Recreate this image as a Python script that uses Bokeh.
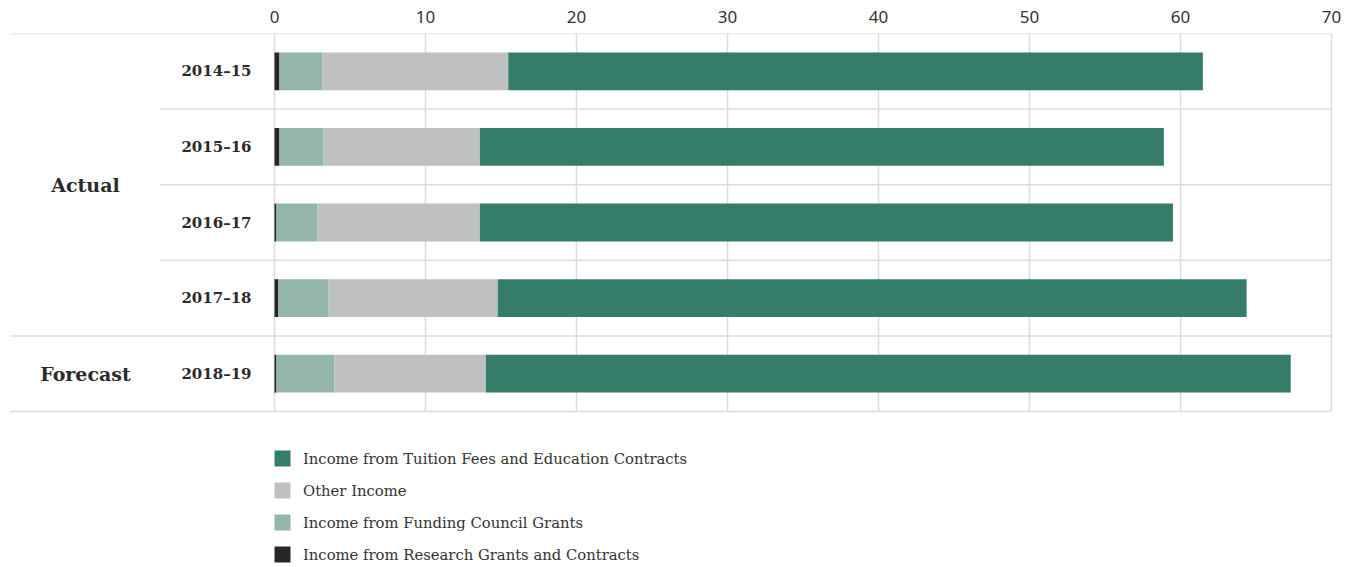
from bokeh.plotting import figure
from bokeh.models import ColumnDataSource, Range1d, FixedTicker, Legend, LegendItem
from bokeh.core.properties import value
from bokeh.embed import file_html
from bokeh.resources import INLINE

# ---- data ----
years = ["2014–15", "2015–16", "2016–17", "2017–18", "2018–19"]
groups = ["Actual", "Forecast"]
research = [0.33, 0.33, 0.13, 0.26, 0.13]
funding = [2.85, 2.92, 2.72, 3.32, 3.84]
other = [12.3, 10.35, 10.75, 11.2, 10.03]
tuition = [46.0, 45.3, 45.9, 49.6, 53.3]
x_ticks = [0, 10, 20, 30, 40, 50, 60, 70]
series_keys = ["research", "funding", "other", "tuition"]
series_labels = [
    "Income from Research Grants and Contracts",
    "Income from Funding Council Grants",
    "Other Income",
    "Income from Tuition Fees and Education Contracts",
]
series_colors = ["#262626", "#94B6A9", "#BFC0C1", "#367D69"]

# ---- layout constants (pixels) ----
W, H = 1362, 567
X0PX = 274.0
PXU = 15.1            # pixels per unit
ROW = 75.6            # pixels per row
TOP = 33

def xd(px):
    return (px - X0PX) / PXU

src = ColumnDataSource(dict(
    y=list(range(len(years))),
    research=research, funding=funding, other=other, tuition=tuition,
))

p = figure(
    width=W, height=H, output_backend="svg", toolbar_location=None,
    x_axis_location="above", y_axis_location=None,
    x_range=Range1d(xd(0), xd(W)),
    y_range=Range1d(-0.5 + (H - TOP) / ROW, -0.5),
    min_border_left=0, min_border_right=0, min_border_bottom=0, min_border_top=TOP,
)
p.outline_line_color = None
p.grid.visible = False

ax = p.xaxis[0]
ax.ticker = FixedTicker(ticks=x_ticks)
ax.axis_line_color = None
ax.major_tick_line_color = None
ax.minor_tick_line_color = None
ax.major_label_standoff = 5
ax.major_label_text_font = "Noto Sans"
ax.major_label_text_font_size = "17px"
ax.major_label_text_color = "#333333"

grid_color = "#dcdcdc"
n = len(years)
# vertical grid lines
p.segment(x0=x_ticks, x1=x_ticks, y0=[-0.5] * len(x_ticks), y1=[n - 0.5] * len(x_ticks),
          line_color=grid_color, line_width=1.5)
# horizontal separators
hy = [-0.5, 0.5, 1.5, 2.5, 3.5, 4.5]
hx0 = [xd(10), xd(160), xd(160), xd(160), xd(10), xd(10)]
p.segment(x0=hx0, x1=[x_ticks[-1]] * len(hy), y0=hy, y1=hy,
          line_color=grid_color, line_width=1.5)

rs = p.hbar_stack(series_keys, y="y", height=0.5, color=series_colors, source=src,
                  line_color=None)

# year labels
p.text(x=[xd(251)] * n, y=list(range(n)), text=years,
       text_align="right", text_baseline="middle",
       text_font=value("DejaVu Serif"), text_font_style="bold",
       text_font_size="15px", text_color="#2b2b2b")
# group labels
p.text(x=[xd(85), xd(85)], y=[1.5, 4.0], text=groups,
       text_align="center", text_baseline="middle",
       text_font=value("DejaVu Serif"), text_font_style="bold",
       text_font_size="19px", text_color="#2b2b2b")

items = [LegendItem(label=series_labels[i], renderers=[rs[i]]) for i in [3, 2, 1, 0]]
legend = Legend(items=items, location=(272, 3), orientation="vertical",
                glyph_width=20, glyph_height=20, label_height=20,
                label_standoff=11, spacing=12, padding=0, margin=0,
                border_line_color=None, background_fill_alpha=0,
                label_text_font="DejaVu Serif", label_text_font_size="14.8px",
                label_text_color="#333333")
p.add_layout(legend)

open("out.html", "w").write(file_html(p, INLINE))
